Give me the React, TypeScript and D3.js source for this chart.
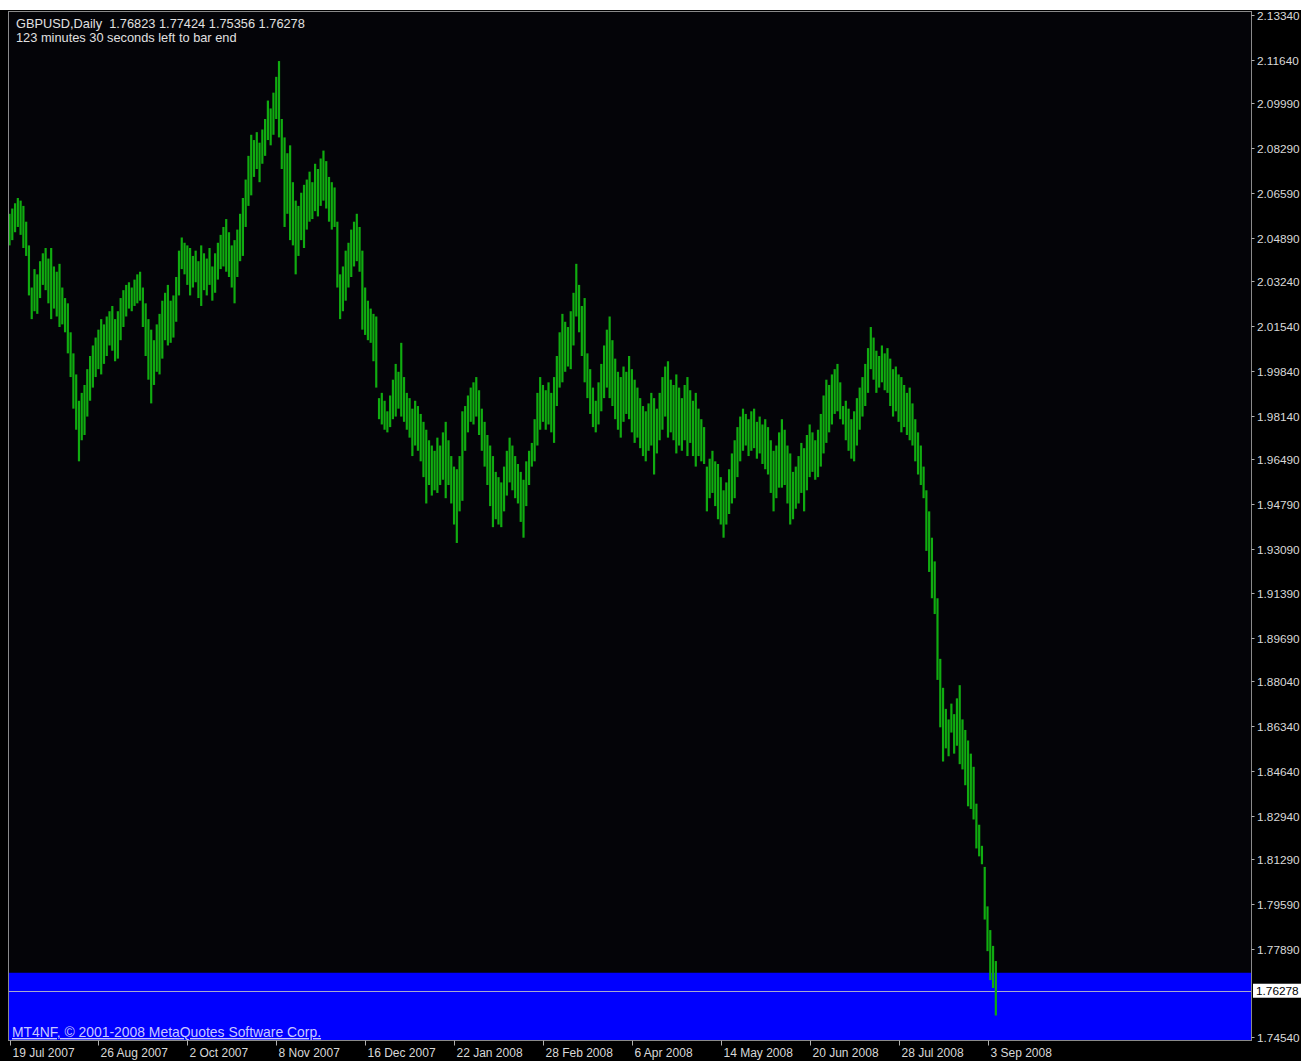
import React from "react";
import * as d3 from "d3";

const symbolTitle = "GBPUSD,Daily";
const lastOpen = 1.76823;
const lastHigh = 1.77424;
const lastLow = 1.75356;
const lastClose = 1.76278;
const timerText = "123 minutes 30 seconds left to bar end";
const copyrightText = "MT4NF, \u00a9 2001-2008 MetaQuotes Software Corp.";

const highs = [
  2.058,2.060,2.062,2.064,2.063,2.061,2.055,2.046,2.030,2.037,
  2.035,2.040,2.043,2.045,2.041,2.045,2.038,2.036,2.039,2.030,
  2.026,2.024,2.013,2.005,1.997,1.987,1.990,1.993,1.999,2.004,
  2.008,2.011,2.014,2.018,2.016,2.019,2.021,2.023,2.018,2.021,
  2.026,2.029,2.031,2.032,2.030,2.033,2.035,2.036,2.030,2.024,
  2.018,2.014,2.010,2.016,2.020,2.025,2.028,2.031,2.025,2.027,
  2.034,2.044,2.049,2.047,2.046,2.045,2.042,2.044,2.040,2.046,
  2.043,2.041,2.045,2.038,2.043,2.047,2.050,2.053,2.056,2.051,
  2.046,2.048,2.052,2.058,2.064,2.071,2.080,2.088,2.086,2.089,
  2.085,2.090,2.094,2.101,2.098,2.104,2.110,2.116,2.094,2.087,
  2.081,2.084,2.070,2.063,2.061,2.066,2.069,2.071,2.074,2.070,
  2.077,2.075,2.079,2.082,2.078,2.072,2.070,2.068,2.055,2.035,
  2.038,2.044,2.047,2.052,2.055,2.058,2.053,2.044,2.030,2.025,
  2.022,2.020,2.019,1.988,1.990,1.987,1.983,1.989,1.995,2.001,
  1.998,2.009,1.996,1.990,1.988,1.984,1.987,1.985,1.982,1.979,
  1.976,1.972,1.970,1.968,1.973,1.970,1.975,1.979,1.972,1.966,
  1.962,1.961,1.966,1.983,1.985,1.989,1.992,1.994,1.996,1.991,
  1.984,1.979,1.974,1.970,1.966,1.960,1.958,1.956,1.962,1.968,
  1.973,1.970,1.966,1.963,1.960,1.957,1.964,1.968,1.971,1.980,
  1.990,1.996,1.993,1.991,1.994,1.990,1.996,2.004,2.013,2.020,
  2.017,2.015,2.021,2.028,2.039,2.031,2.023,2.026,2.005,1.999,
  1.992,1.987,1.994,2.001,2.008,2.014,2.019,2.010,2.003,1.998,
  1.996,2.000,1.998,2.004,1.999,1.995,1.992,1.988,1.985,1.983,
  1.986,1.990,1.988,1.984,1.990,1.996,2.000,2.002,1.995,1.993,
  1.997,1.992,1.988,1.993,1.996,1.991,1.987,1.990,1.984,1.980,
  1.977,1.962,1.965,1.968,1.964,1.963,1.958,1.953,1.956,1.961,
  1.967,1.972,1.977,1.981,1.984,1.982,1.980,1.983,1.984,1.979,
  1.981,1.978,1.980,1.977,1.972,1.968,1.970,1.975,1.980,1.976,
  1.970,1.967,1.960,1.962,1.966,1.971,1.969,1.974,1.978,1.975,
  1.972,1.976,1.982,1.989,1.995,1.993,1.997,1.999,2.001,1.994,
  1.985,1.987,1.984,1.980,1.983,1.988,1.992,1.996,2.001,2.007,
  2.015,2.011,2.006,2.004,2.008,2.005,2.007,2.003,1.999,2.000,
  1.997,1.996,1.993,1.990,1.992,1.986,1.980,1.975,1.970,1.962,
  1.953,1.945,1.935,1.926,1.912,1.889,1.878,1.870,1.866,1.872,
  1.868,1.874,1.879,1.866,1.862,1.858,1.853,1.848,1.834,1.826,
  1.818,1.810,1.795,1.786,1.780,1.77424,
];

const lows = [
  2.046,2.048,2.051,2.053,2.050,2.045,2.042,2.027,2.018,2.021,
  2.020,2.026,2.031,2.029,2.024,2.018,2.022,2.019,2.015,2.016,
  2.013,2.005,1.996,1.984,1.976,1.964,1.972,1.974,1.981,1.987,
  1.992,1.996,1.999,1.997,2.001,2.004,2.008,2.006,2.002,2.003,
  2.010,2.015,2.019,2.022,2.021,2.023,2.024,2.025,2.015,2.004,
  1.995,1.986,1.993,1.998,1.997,2.003,2.010,2.008,2.009,2.011,
  2.017,2.027,2.037,2.035,2.031,2.027,2.030,2.032,2.026,2.023,
  2.029,2.027,2.031,2.025,2.028,2.033,2.037,2.038,2.036,2.034,
  2.030,2.024,2.034,2.040,2.042,2.053,2.061,2.065,2.072,2.075,
  2.070,2.077,2.080,2.086,2.084,2.088,2.094,2.087,2.075,2.053,
  2.058,2.048,2.046,2.035,2.042,2.048,2.045,2.052,2.055,2.056,
  2.059,2.057,2.061,2.063,2.060,2.055,2.052,2.053,2.030,2.018,
  2.021,2.025,2.030,2.034,2.038,2.040,2.036,2.014,2.012,2.010,
  2.009,2.002,1.992,1.980,1.978,1.976,1.975,1.977,1.980,1.981,
  1.984,1.981,1.979,1.976,1.973,1.966,1.970,1.968,1.964,1.958,
  1.948,1.955,1.951,1.953,1.952,1.955,1.957,1.950,1.955,1.948,
  1.940,1.933,1.945,1.949,1.968,1.975,1.979,1.978,1.981,1.974,
  1.968,1.962,1.955,1.947,1.939,1.942,1.940,1.939,1.945,1.951,
  1.956,1.953,1.950,1.948,1.941,1.935,1.947,1.955,1.962,1.964,
  1.970,1.976,1.979,1.976,1.978,1.975,1.971,1.985,1.992,1.994,
  1.998,2.000,1.999,2.008,2.019,2.013,2.004,1.994,1.988,1.982,
  1.977,1.975,1.978,1.983,1.988,1.992,1.988,1.985,1.980,1.976,
  1.973,1.979,1.982,1.980,1.975,1.971,1.973,1.969,1.966,1.964,
  1.968,1.970,1.959,1.967,1.972,1.976,1.981,1.973,1.975,1.972,
  1.967,1.970,1.968,1.972,1.966,1.971,1.966,1.962,1.966,1.964,
  1.963,1.945,1.950,1.952,1.947,1.942,1.940,1.935,1.940,1.944,
  1.948,1.950,1.958,1.964,1.968,1.970,1.966,1.968,1.969,1.965,
  1.967,1.963,1.961,1.959,1.952,1.945,1.950,1.954,1.954,1.955,
  1.948,1.940,1.942,1.946,1.948,1.952,1.945,1.953,1.958,1.960,
  1.957,1.958,1.962,1.967,1.971,1.975,1.978,1.982,1.983,1.980,
  1.978,1.972,1.968,1.965,1.964,1.970,1.976,1.981,1.985,1.990,
  1.999,1.995,1.990,1.992,1.994,1.991,1.990,1.985,1.981,1.983,
  1.979,1.975,1.977,1.974,1.972,1.970,1.964,1.959,1.955,1.950,
  1.930,1.922,1.912,1.906,1.881,1.863,1.850,1.855,1.852,1.861,
  1.853,1.856,1.849,1.847,1.841,1.833,1.832,1.828,1.817,1.814,
  1.811,1.790,1.778,1.767,1.764,1.75356,
];

const priceTickLabels = [
  "2.13340","2.11640","2.09990","2.08290","2.06590","2.04890","2.03240","2.01540",
  "1.99840","1.98140","1.96490","1.94790","1.93090","1.91390","1.89690","1.88040",
  "1.86340","1.84640","1.82940","1.81290","1.79590","1.77890","1.74540",
];

const dateTickLabels = [
  "19 Jul 2007","26 Aug 2007","2 Oct 2007","8 Nov 2007","16 Dec 2007","22 Jan 2008",
  "28 Feb 2008","6 Apr 2008","14 May 2008","20 Jun 2008","28 Jul 2008","3 Sep 2008",
];
const dateTickBars = [0, 32, 64, 96, 128, 160, 192, 224, 256, 288, 320, 352];

const bandTopPrice = 1.7698;

const W = 1301;
const H = 1061;
const plotL = 8.5;
const plotR = 1251.5;
const plotT = 11.5;
const plotB = 1040.5;

export default function App() {
  const x = d3.scaleLinear().domain([0, 352]).range([9.5, 987.5]);
  const y = d3.scaleLinear().domain([1.7454, 2.1164]).range([1037, 60]);
  const bars = d3.range(highs.length);
  const fmtHdr = (v: number) => v.toFixed(5);
  const font = "'Liberation Sans', Arial, sans-serif";
  const yClose = y(lastClose);

  return (
    <svg
      width={W}
      height={H}
      style={{ position: "absolute", left: 0, top: 0, display: "block" }}
      fontFamily={font}
    >
      <rect x={0} y={0} width={W} height={H} fill="#000000" />
      <rect x={0} y={0} width={W} height={10} fill="#ffffff" />
      <rect x={plotL} y={plotT} width={plotR - plotL} height={plotB - plotT} fill="#040408" />
      <rect
        x={plotL + 0.5}
        y={y(bandTopPrice)}
        width={plotR - plotL - 1}
        height={plotB - y(bandTopPrice)}
        fill="#0000ff"
      />
      <line x1={plotL} x2={plotR} y1={Math.round(yClose) + 0.5} y2={Math.round(yClose) + 0.5} stroke="#a8a8d0" strokeWidth={1} />

      <g>
        {bars.map((i) => (
          <line
            key={i}
            x1={x(i)}
            x2={x(i)}
            y1={y(highs[i])}
            y2={y(lows[i])}
            stroke="#10ac10"
            strokeWidth={2.2}
          />
        ))}
      </g>

      <rect x={plotL} y={plotT} width={plotR - plotL} height={plotB - plotT} fill="none" stroke="#8a8a8a" strokeWidth={1} />

      <g fontSize={11.8} fill="#d8d8d8">
        {priceTickLabels.map((t) => {
          const yy = Math.round(y(+t)) + 0.5;
          return (
            <g key={t}>
              <line x1={plotR} x2={plotR + 3} y1={yy} y2={yy} stroke="#b0b0b0" />
              <text x={1257} y={yy + 4}>{t}</text>
            </g>
          );
        })}
      </g>

      <rect x={1253} y={yClose - 7.5} width={48} height={14} fill="#ffffff" />
      <text x={1256} y={yClose + 4} fontSize={11.8} fill="#000000">{lastClose.toFixed(5)}</text>

      <g fontSize={12} fill="#d8d8d8">
        {dateTickLabels.map((t, k) => {
          const xx = Math.round(x(dateTickBars[k])) + 0.5;
          return (
            <g key={t}>
              <line x1={xx} x2={xx} y1={plotB} y2={plotB + 5} stroke="#b0b0b0" />
              <text x={xx + 2} y={1057}>{t}</text>
            </g>
          );
        })}
      </g>

      <g fontSize={12.8} fill="#e0e0e0">
        <text x={16} y={28} xmlSpace="preserve">
          {`${symbolTitle}  ${fmtHdr(lastOpen)} ${fmtHdr(lastHigh)} ${fmtHdr(lastLow)} ${fmtHdr(lastClose)}`}
        </text>
        <text x={16} y={42}>{timerText}</text>
      </g>

      <text x={12} y={1037} fontSize={13.9} fill="#c8c8ff" textDecoration="underline">
        {copyrightText}
      </text>
    </svg>
  );
}
